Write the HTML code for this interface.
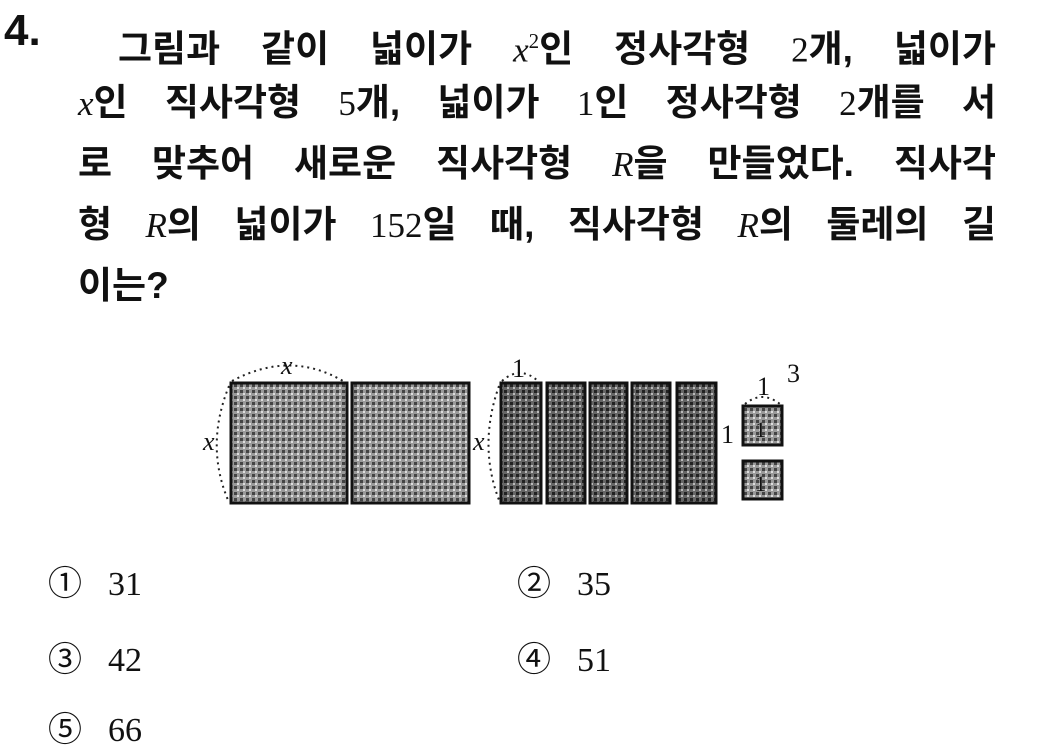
<!DOCTYPE html>
<html><head><meta charset="utf-8"><style>
body{margin:0;width:1045px;height:752px;background:#fff;overflow:hidden;position:relative;font-family:"Liberation Sans","Noto Sans CJK KR",sans-serif;color:#111}
.num{position:absolute;left:4px;top:6px;font-size:44px;font-weight:bold}
.l{position:absolute;left:78px;width:918px;height:50px;font-size:37px;font-weight:bold;line-height:50px;text-align:justify;text-align-last:justify;white-space:nowrap}
.l i{font-family:"Liberation Serif",serif;font-weight:normal;font-size:35px}
.l .n{font-family:"Liberation Serif",serif;font-weight:normal;font-size:35px}
.a{position:absolute;font-family:"Liberation Serif","Noto Sans CJK KR",serif;font-size:34px}
.a span{display:inline-block;width:60px}
</style></head><body>
<div class="num">4.</div>
<div class="l" style="left:118px;width:878px;top:16px">그림과 같이 넓이가 <i>x</i><sup class="n" style="font-size:21px">2</sup>인 정사각형 <span class="n">2</span>개, 넓이가</div>
<div class="l" style="top:78px"><i>x</i>인 직사각형 <span class="n">5</span>개, 넓이가 <span class="n">1</span>인 정사각형 <span class="n">2</span>개를 서</div>
<div class="l" style="top:139px">로 맞추어 새로운 직사각형 <i>R</i>을 만들었다. 직사각</div>
<div class="l" style="top:200px">형 <i>R</i>의 넓이가 <span class="n">152</span>일 때, 직사각형 <i>R</i>의 둘레의 길</div>
<div class="l" style="top:261px;text-align-last:left">이는?</div>
<svg width="1045" height="752" style="position:absolute;left:0;top:0">
<defs><pattern id="p" width="6" height="6" patternUnits="userSpaceOnUse"><rect width="6" height="6" fill="#9a9a9a"/><rect x="0" y="0" width="3" height="3" fill="#444"/><rect x="3" y="3" width="2" height="2" fill="#ddd"/></pattern>
<pattern id="q" width="6" height="6" patternUnits="userSpaceOnUse"><rect width="6" height="6" fill="#666"/><rect x="0" y="0" width="3" height="3" fill="#222"/><rect x="3" y="3" width="2" height="2" fill="#bbb"/></pattern></defs>
<g stroke="#111" stroke-width="3">
<rect x="231" y="383" width="116" height="120" fill="url(#p)"/>
<rect x="352" y="383" width="117" height="120" fill="url(#p)"/>
<rect x="501" y="383" width="40" height="120" fill="url(#q)"/>
<rect x="547" y="383" width="38" height="120" fill="url(#q)"/>
<rect x="590" y="383" width="37" height="120" fill="url(#q)"/>
<rect x="632" y="383" width="38" height="120" fill="url(#q)"/>
<rect x="677" y="383" width="39" height="120" fill="url(#q)"/>
<rect x="743" y="406" width="39" height="39" fill="url(#p)"/>
<rect x="743" y="461" width="39" height="38" fill="url(#p)"/>
</g>
<g fill="none" stroke="#222" stroke-width="2" stroke-dasharray="2 4">
<path d="M232 381 Q290 350 343 381"/><path d="M229 386 Q205 445 228 500"/>
<path d="M502 381 Q520 365 538 381"/><path d="M499 386 Q478 445 499 500"/>
<path d="M745 404 Q762 390 780 404"/>
</g>
<g font-family="Liberation Serif,serif" font-size="26" fill="#111">
<text x="281" y="374" font-style="italic">x</text>
<text x="203" y="450" font-style="italic">x</text>
<text x="512" y="377">1</text>
<text x="473" y="450" font-style="italic">x</text>
<text x="757" y="395">1</text>
<text x="721" y="443">1</text>
<text x="787" y="382">3</text>
<text x="755" y="437" font-size="22">1</text>
<text x="755" y="491" font-size="22">1</text>
</g>
</svg>
<div class="a" style="left:48px;top:556px"><span>①</span>31</div>
<div class="a" style="left:517px;top:556px"><span>②</span>35</div>
<div class="a" style="left:48px;top:632px"><span>③</span>42</div>
<div class="a" style="left:517px;top:632px"><span>④</span>51</div>
<div class="a" style="left:48px;top:702px"><span>⑤</span>66</div>
</body></html>
